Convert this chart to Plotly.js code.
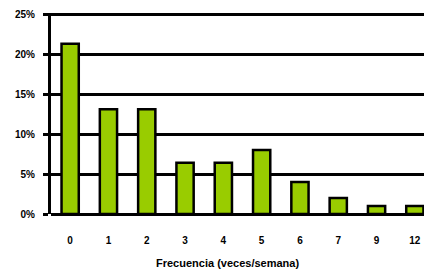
<!DOCTYPE html>
<html>
<head>
<meta charset="utf-8">
<script src="https://cdn.plot.ly/plotly-3.0.1.min.js"></script>
<style>html,body{margin:0;padding:0;overflow:hidden;background:#fff;}</style>
</head>
<body>
<div id="chart"></div>
<script>
const categories = ['0', '1', '2', '3', '4', '5', '6', '7', '9', '12'];
const values = [21.3, 13.1, 13.1, 6.4, 6.4, 8.0, 4.0, 2.0, 1.0, 1.0];
const yTicks = [0, 5, 10, 15, 20, 25];
const yTickLabels = ['0%', '5%', '10%', '15%', '20%', '25%'];
const xTitle = 'Frecuencia (veces/semana)';

const fam = 'Arial, "Liberation Sans", sans-serif';
const font = {family: fam, size: 10, color: '#000'};

Plotly.newPlot('chart', [{
  type: 'bar',
  x: categories,
  y: values,
  marker: {color: '#99cc00', line: {color: '#000', width: 2.5}},
  hoverinfo: 'skip'
}], {
  width: 440, height: 272,
  margin: {l: 51, r: 6, t: 13, b: 58},
  paper_bgcolor: '#fff', plot_bgcolor: '#fff',
  bargap: 0.55,
  showlegend: false,
  font: font,
  xaxis: {
    type: 'category',
    showgrid: false, zeroline: false, showline: false,
    tickvals: categories,
    ticktext: categories.map(c => '<b>' + c + '</b>'),
    ticks: 'outside', ticklen: 17, tickcolor: 'rgba(0,0,0,0)',
    tickfont: font
  },
  yaxis: {
    range: [0, 25.15], tickvals: yTicks,
    ticktext: yTickLabels.map(t => '<b>' + t + '</b>'),
    showgrid: true, gridcolor: '#000', gridwidth: 3,
    zeroline: true, zerolinecolor: '#000', zerolinewidth: 3,
    showline: true, linecolor: '#000', linewidth: 3,
    ticks: 'outside', ticklen: 5, tickwidth: 3, tickcolor: '#000',
    ticklabelstandoff: 6,
    tickfont: font
  },
  annotations: [{
    text: '<b>' + xTitle + '</b>', xref: 'paper', yref: 'paper',
    x: 0.46, y: -0.245, xanchor: 'center', yanchor: 'middle',
    showarrow: false, font: {family: fam, size: 11, color: '#000'}
  }]
}, {displayModeBar: false, staticPlot: true});
</script>
</body>
</html>
